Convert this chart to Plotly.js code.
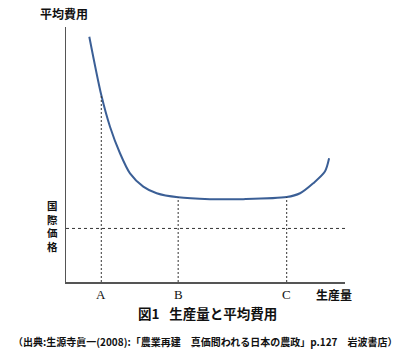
<!DOCTYPE html>
<html>
<head>
<meta charset="utf-8">
<script src="https://cdn.plot.ly/plotly-3.0.1.min.js"></script>
<style>html,body{margin:0;padding:0;background:#fff;}#chart{width:400px;height:352px;}</style>
</head>
<body>
<div id="chart"></div>
<script>
// Average cost curve (x = production, y = average cost), arbitrary units
const curveX = [0.835, 1.265, 1.577, 1.935, 2.294, 2.77, 3.25, 4.02, 5.16, 6.35, 7.91, 8.39, 8.86, 9.28, 9.43];
const curveY = [9.62, 7.33, 6.09, 5.05, 4.26, 3.74, 3.48, 3.32, 3.25, 3.25, 3.33, 3.48, 3.87, 4.33, 4.85];
// Production levels A, B, C and the cost on the curve there
const pointLabels = ["A", "B", "C"];
const pointX = [1.265, 4.02, 7.91];
const pointY = [7.33, 3.32, 3.33];
// International price level
const worldPrice = 2.1;
const priceLabelChars = ["国", "際", "価", "格"];
const xMax = 10, yMax = 10;

const jp = '"Noto Sans CJK JP", "Noto Sans", sans-serif';

const traces = [];
traces.push({
  x: curveX, y: curveY, mode: 'lines', type: 'scatter',
  line: {color: '#3b5f96', width: 2, shape: 'spline', smoothing: 0.8},
  hoverinfo: 'skip'
});
pointX.forEach((px, i) => {
  traces.push({
    x: [px, px], y: [0, pointY[i]], mode: 'lines', type: 'scatter',
    line: {color: '#333', width: 1, dash: '2px,2px'}, hoverinfo: 'skip'
  });
});
traces.push({
  x: [0, xMax], y: [worldPrice, worldPrice], mode: 'lines', type: 'scatter',
  line: {color: '#333', width: 1, dash: '3px,3px'}, hoverinfo: 'skip'
});

const annotations = [];
pointLabels.forEach((lab, i) => {
  annotations.push({
    x: pointX[i], y: 0, xref: 'x', yref: 'y', yshift: -12, text: lab, showarrow: false,
    font: {family: '"Liberation Serif", serif', size: 13, color: '#111'}
  });
});
annotations.push({x: 9.6, y: 0, xref: 'x', yref: 'y', yshift: -12, xanchor: 'center', text: '<b>生産量</b>', showarrow: false,
  font: {family: jp, size: 12, color: '#111'}});
annotations.push({x: 0, y: yMax, xref: 'x', yref: 'y', xshift: -2, yshift: 14, text: '<b>平均費用</b>', showarrow: false,
  font: {family: jp, size: 12, color: '#111'}});
annotations.push({x: 0, y: worldPrice, xref: 'x', yref: 'y', xshift: -14, yshift: 2,
  text: '<b>' + priceLabelChars.join('<br>') + '</b>', showarrow: false, align: 'center',
  font: {family: jp, size: 10.5, color: '#111'}});
annotations.push({x: 0.5, y: 0, xref: 'paper', yref: 'y', xshift: 2, yshift: -31, text: '<b>図1\u2002 生産量と平均費用</b>', showarrow: false,
  font: {family: jp, size: 13.5, color: '#111'}});
annotations.push({x: 0.5, y: 0, xref: 'paper', yref: 'y', xshift: -1, yshift: -59, text: '<b>（出典:生源寺眞一(2008):「農業再建　真価問われる日本の農政」p.127　岩波書店）</b>', showarrow: false,
  font: {family: jp, size: 10, color: '#111'}});

const layout = {
  width: 400, height: 352,
  margin: {l: 66, r: 55, t: 27, b: 70},
  paper_bgcolor: '#fff', plot_bgcolor: '#fff',
  showlegend: false,
  xaxis: {range: [0, xMax], showline: true, linecolor: '#555', linewidth: 1.5, showgrid: false, zeroline: false, showticklabels: false, ticks: ''},
  yaxis: {range: [0, yMax], showline: true, linecolor: '#555', linewidth: 1.5, showgrid: false, zeroline: false, showticklabels: false, ticks: ''},
  annotations: annotations
};
Plotly.newPlot('chart', traces, layout, {staticPlot: true, displayModeBar: false});
</script>
</body>
</html>
